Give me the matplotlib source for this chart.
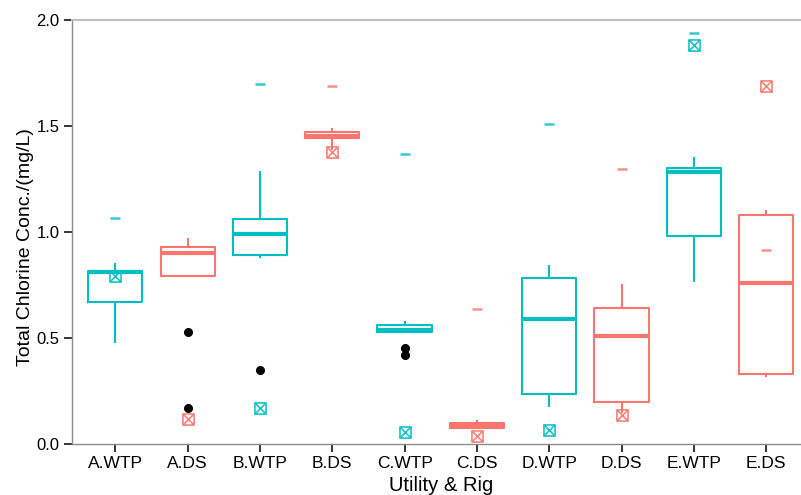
import matplotlib
matplotlib.use("Agg")
import matplotlib.pyplot as plt
import numpy as np
from matplotlib.path import Path

plt.rcParams['font.family'] = ['Liberation Sans', 'DejaVu Sans']

# Box summary per utility / rig
labels = ['A.WTP', 'A.DS', 'B.WTP', 'B.DS', 'C.WTP', 'C.DS', 'D.WTP', 'D.DS', 'E.WTP', 'E.DS']
rig = ['WTP', 'DS', 'WTP', 'DS', 'WTP', 'DS', 'WTP', 'DS', 'WTP', 'DS']
q1 = [0.67, 0.79, 0.89, 1.44, 0.53, 0.075, 0.235, 0.20, 0.98, 0.33]
med = [0.81, 0.90, 0.99, 1.45, 0.535, 0.085, 0.59, 0.51, 1.28, 0.76]
q3 = [0.815, 0.93, 1.06, 1.47, 0.56, 0.10, 0.78, 0.64, 1.30, 1.08]
whislo = [0.48, 0.79, 0.88, 1.39, 0.53, 0.075, 0.18, 0.15, 0.77, 0.32]
whishi = [0.846, 0.968, 1.28, 1.486, 0.576, 0.108, 0.838, 0.747, 1.347, 1.096]
outliers = [[], [0.53, 0.17], [0.35], [], [0.45, 0.42], [], [], [], [], []]

# Reference readings drawn as extra markers
dash_vals = [1.067, np.nan, 1.694, 1.686, 1.366, 0.637, 1.506, 1.294, 1.936, 0.916]
xsq_vals = [0.79, 0.118, 0.168, 1.376, 0.058, 0.038, 0.066, 0.138, 1.878, 1.686]

palette = {'WTP': '#00BFC4', 'DS': '#F8766D'}

W, H = 801, 495
fig = plt.figure(figsize=(W / 100, H / 100), dpi=100)
left, right = 72, 809.5
top, bottom = 19.5, 444
ax = fig.add_axes([left / W, 1 - bottom / H, (right - left) / W, (bottom - top) / H])

positions = np.arange(1, len(labels) + 1)
stats = []
for i in range(len(labels)):
    stats.append(dict(label=labels[i], q1=q1[i], med=med[i], q3=q3[i],
                      whislo=whislo[i], whishi=whishi[i], fliers=outliers[i]))

for i, s in enumerate(stats):
    c = palette[rig[i]]
    ax.bxp([s], positions=[positions[i]], widths=0.75, showcaps=False,
           boxprops=dict(color=c, linewidth=1.5),
           whiskerprops=dict(color=c, linewidth=1.5),
           medianprops=dict(color=c, linewidth=3.0, solid_capstyle='butt'),
           flierprops=dict(marker='o', markerfacecolor='black', markeredgecolor='black',
                           markersize=5.5, linestyle='none'),
           manage_ticks=False)

# square with a cross inside
xsq_path = Path(
    [(-0.5, -0.5), (0.5, -0.5), (0.5, 0.5), (-0.5, 0.5), (-0.5, -0.5),
     (-0.5, -0.5), (0.5, 0.5), (-0.5, 0.5), (0.5, -0.5)],
    [Path.MOVETO, Path.LINETO, Path.LINETO, Path.LINETO, Path.CLOSEPOLY,
     Path.MOVETO, Path.LINETO, Path.MOVETO, Path.LINETO])

for i in range(len(labels)):
    c = palette[rig[i]]
    if not np.isnan(dash_vals[i]):
        ax.plot([positions[i]], [dash_vals[i]], marker='_', markersize=7.5,
                markeredgewidth=1.8, color=c, alpha=0.8, linestyle='none')
    ax.plot([positions[i]], [xsq_vals[i]], marker=xsq_path, markersize=8,
            markeredgewidth=1.2, markerfacecolor='none', markeredgecolor=c,
            alpha=0.9, linestyle='none')

ax.set_xlim(0.4, len(labels) + 0.6)
ax.set_ylim(0, 2.0)
ax.set_xticks(positions)
ax.set_xticklabels(labels)
ax.set_yticks([0.0, 0.5, 1.0, 1.5, 2.0])
ax.set_yticklabels(['0.0', '0.5', '1.0', '1.5', '2.0'])
ax.tick_params(axis='both', direction='out', length=6, width=1.1, color='black',
               labelcolor='black', pad=3)
ax.tick_params(axis='x', labelsize=12.5)
ax.tick_params(axis='y', labelsize=12)

for side in ['left', 'bottom']:
    ax.spines[side].set_color('#8c8c8c')
    ax.spines[side].set_linewidth(1.0)
ax.spines['top'].set_color('#c0c0c0')
ax.spines['top'].set_linewidth(1.5)
ax.spines['right'].set_visible(False)

ax.set_xlabel('Utility & Rig', fontsize=14.5, labelpad=3)
ax.set_ylabel('Total Chlorine Conc./(mg/L)', fontsize=14)
ax.yaxis.set_label_coords(-0.052, 0.464)

fig.savefig('out.png', dpi=100)
